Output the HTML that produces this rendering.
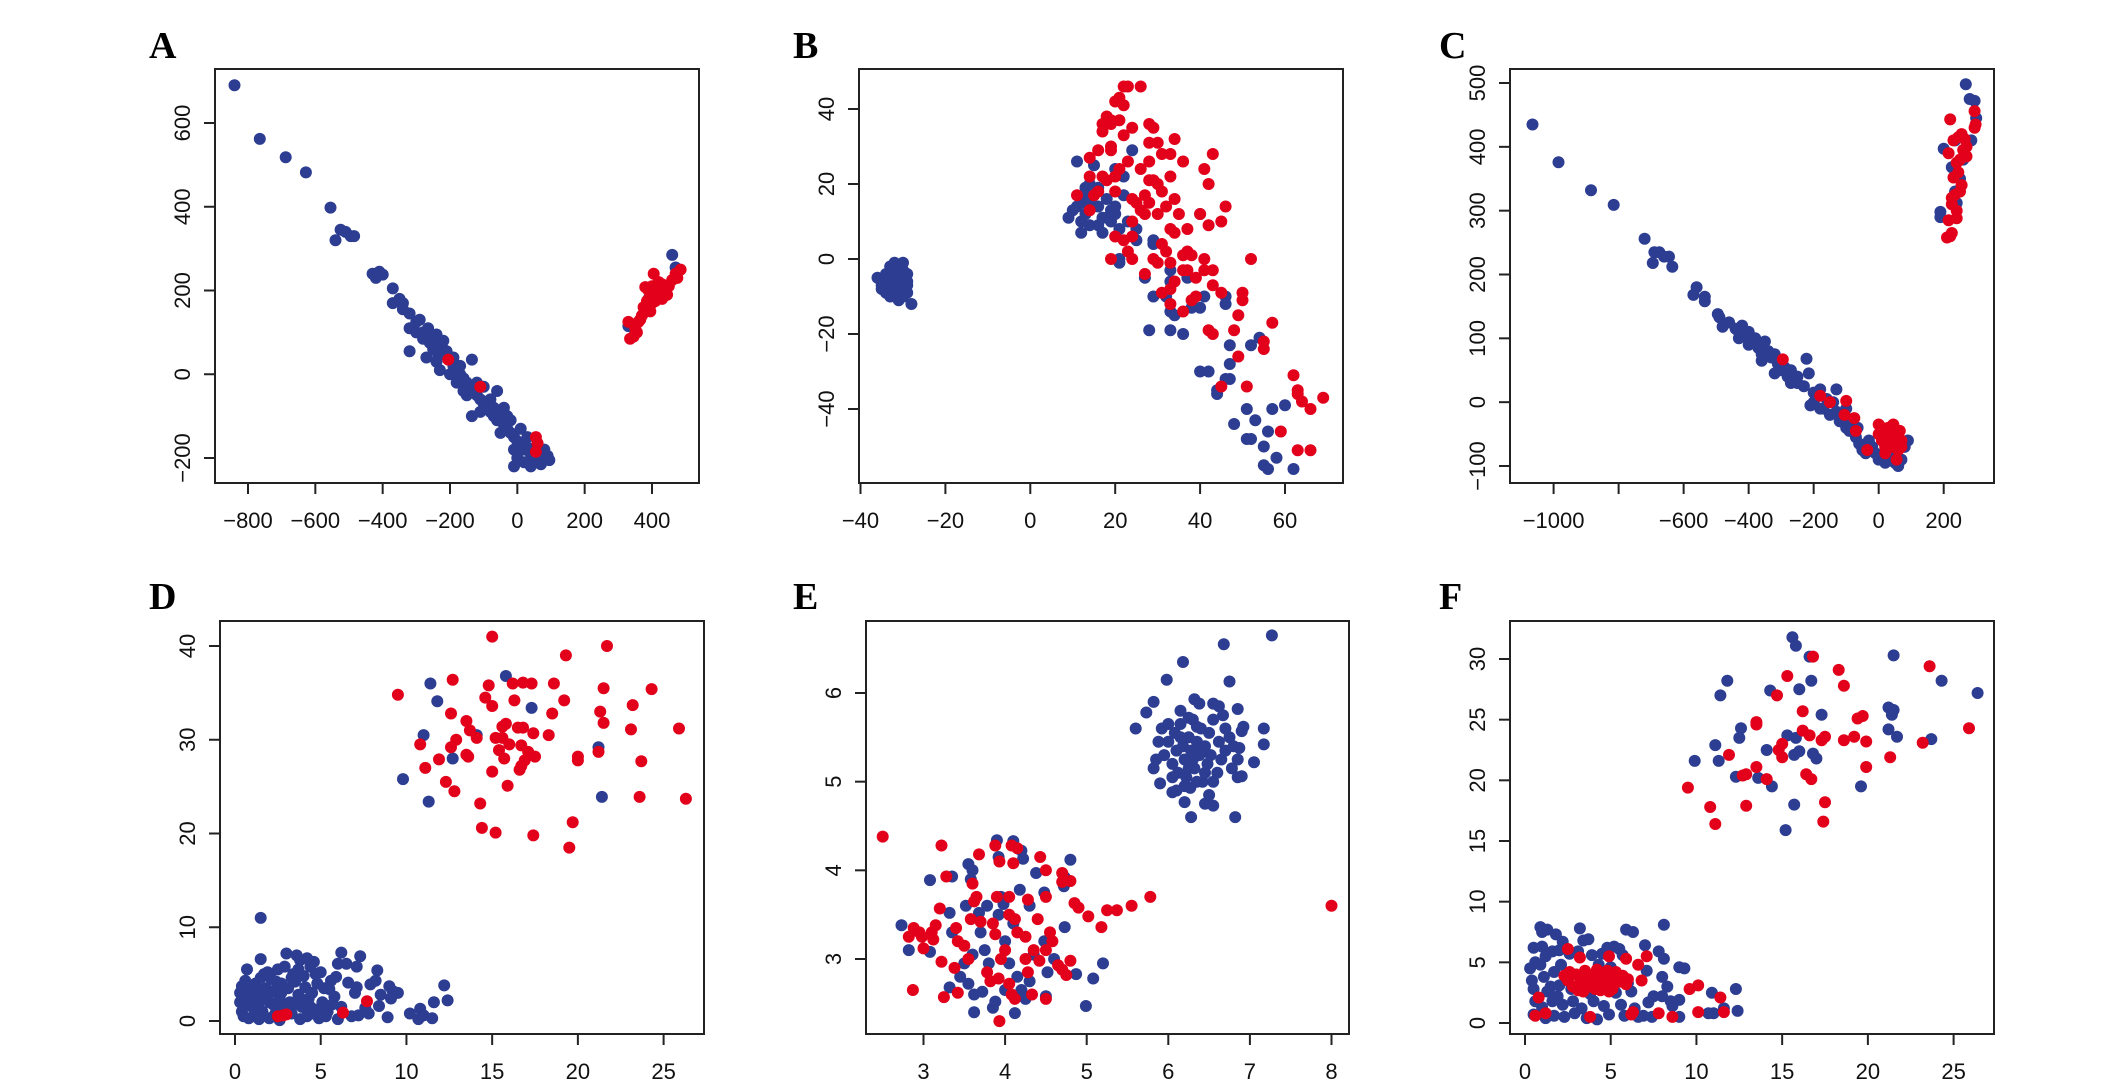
<!DOCTYPE html>
<html><head><meta charset="utf-8"><style>
html,body{margin:0;padding:0;background:#fff;}
svg{display:block;}
</style></head><body>
<svg id="fig" width="2126" height="1090" viewBox="0 0 2126 1090" xmlns="http://www.w3.org/2000/svg"></svg>
<script>
// ---------- data ----------
const aBlue=[[-840,690],[-765,562],[-688,518],[-628,482],[-555,398],[-540,320],[-525,345],[-510,340],[-495,330],[-485,330],[-430,240],[-420,230],[-410,245],[-400,238],[-370,205],[-370,170],[-350,180],[-340,155],[-320,145],[-320,110],[-300,125],[-290,130],[-280,100],[-265,110],[-255,90],[-240,95],[-230,70],[-220,60],[-210,55],[-235,45],[-250,60],[-320,55],[-200,40],[-190,20],[-180,10],[-170,0],[-160,-10],[-150,-20],[-140,-30],[-135,35],[-130,-40],[-120,-50],[-110,-60],[-100,-70],[-135,-100],[-90,-80],[-80,-90],[-70,-100],[-60,-110],[-50,-95],[-40,-120],[-30,-130],[-20,-140],[-10,-150],[0,-160],[10,-170],[20,-180],[30,-175],[40,-190],[50,-200],[60,-185],[70,-195],[80,-180],[90,-195],[95,-205],[-10,-220],[40,-220],[-50,-140],[-60,-40],[-100,-30],[-150,-50],[-200,0],[-240,30],[-260,75],[-280,85],[-220,80],[-190,40],[-170,20],[-120,-20],[-80,-60],[-40,-80],[-20,-110],[10,-130],[30,-150],[60,-165],[0,-200],[20,-210],[70,-215],[-10,-180],[-30,-100],[-70,-80],[-110,-90],[-160,-40],[-180,-20],[-230,10],[-270,40],[-300,100],[-340,170],[460,285],[470,255],[330,115],[390,180]];
const aRed=[[330,125],[335,85],[345,90],[350,110],[360,125],[370,140],[375,160],[380,150],[385,175],[390,200],[395,190],[400,210],[405,240],[410,185],[415,200],[420,205],[425,195],[430,180],[440,200],[450,210],[460,225],[470,240],[485,250],[400,170],[390,160],[420,220],[380,208],[365,130],[355,100],[410,175],[430,215],[445,190],[475,230],[395,150],[-205,35],[-110,-30],[55,-150],[60,-165],[55,-185]];
const bBlue=[[-36,-5],[-35,-7],[-35,-8],[-34,-4],[-34,-6],[-33,-2],[-33,-5],[-33,-8],[-33,-10],[-32,-1],[-32,-3],[-32,-6],[-32,-9],[-31,-2],[-31,-4],[-31,-7],[-31,-10],[-30,-1],[-30,-3],[-30,-5],[-30,-8],[-29,-4],[-29,-6],[-29,-9],[-28,-12],[-29,-7],[-34,-9],[-31,-11],[-30,-10],[11,26],[9,11],[10,13],[12,15],[13,19],[14,20],[15,25],[12,7],[12,10],[13,12],[14,15],[16,9],[17,7],[18,11],[19,10],[20,24],[20,12],[21,8],[22,17],[22,22],[23,10],[24,29],[25,8],[25,5],[21,-1],[21,0],[27,-5],[29,-10],[29,4],[29,5],[33,-3],[33,-6],[32,-10],[33,-14],[34,-15],[37,-5],[38,-13],[40,-13],[41,-10],[40,12],[28,-19],[33,-19],[36,-20],[46,-10],[46,-12],[47,-23],[47,-28],[46,-32],[47,-32],[40,-30],[42,-30],[44,-35],[44,-36],[51,-40],[53,-43],[48,-44],[51,-48],[52,-48],[55,-50],[56,-46],[57,-40],[58,-53],[60,-39],[55,-55],[56,-56],[62,-56],[54,-21],[52,-23],[15,17],[16,14],[18,16],[19,13],[20,14],[17,11],[14,9],[13,17],[16,19],[11,14]];
const bRed=[[22,46],[23,46],[26,46],[20,42],[21,43],[22,41],[17,36],[18,38],[19,37],[19,36],[21,37],[22,33],[24,35],[17,34],[16,29],[19,30],[19,29],[23,26],[14,27],[28,36],[29,35],[28,31],[30,31],[31,28],[28,26],[26,24],[34,32],[33,28],[36,26],[33,22],[41,24],[43,28],[42,20],[28,21],[29,21],[30,20],[31,18],[27,17],[28,15],[25,15],[24,16],[26,13],[27,12],[30,12],[32,14],[34,16],[35,12],[33,8],[34,7],[37,8],[40,12],[42,9],[46,14],[45,10],[14,22],[15,17],[16,18],[17,22],[18,21],[20,22],[21,24],[20,18],[11,17],[14,13],[19,0],[20,6],[22,5],[24,10],[23,2],[24,0],[24,6],[27,-4],[29,0],[30,-1],[31,4],[32,2],[33,-1],[36,1],[37,2],[38,1],[36,-3],[37,-3],[39,-5],[41,0],[41,-3],[43,-3],[43,-7],[39,-10],[38,-11],[34,-6],[33,-8],[31,-9],[33,-12],[36,-14],[45,-9],[50,-9],[50,-11],[49,-15],[42,-19],[43,-20],[48,-19],[49,-26],[55,-22],[55,-24],[57,-17],[52,0],[45,-34],[51,-34],[59,-46],[62,-31],[63,-35],[63,-36],[64,-38],[66,-40],[69,-37],[63,-51],[66,-51]];
const cBlue=[[-1065,435],[-985,376],[-885,332],[-815,309],[-720,256],[-695,218],[-690,235],[-675,235],[-660,228],[-645,228],[-635,212],[-570,168],[-560,180],[-535,165],[-535,158],[-495,138],[-490,133],[-480,118],[-460,125],[-440,115],[-430,100],[-420,120],[-410,105],[-400,110],[-390,95],[-380,100],[-370,85],[-360,65],[-350,95],[-340,80],[-330,70],[-320,75],[-310,60],[-300,50],[-290,55],[-280,40],[-270,50],[-260,35],[-250,30],[-230,25],[-222,68],[-215,45],[-200,15],[-190,10],[-180,20],[-170,-10],[-160,5],[-150,-20],[-130,-15],[-130,20],[-120,-30],[-110,-25],[-100,-40],[-90,-45],[-80,-35],[-70,-55],[-60,-65],[-50,-75],[-40,-80],[-30,-60],[-20,-70],[0,-90],[20,-95],[40,-85],[60,-100],[70,-90],[80,-70],[90,-60],[50,-95],[-10,-80],[-360,75],[-300,65],[-250,40],[-200,0],[-140,0],[-210,-5],[-270,30],[-320,45],[-400,90],[-430,110],[-180,-10],[-100,-10],[-65,-40],[268,498],[280,475],[295,472],[300,445],[285,410],[190,298],[190,290],[200,397],[235,410],[225,368],[240,360],[250,350],[235,330],[240,312],[260,380]];
const cRed=[[220,443],[295,456],[298,435],[295,430],[230,410],[245,415],[255,420],[265,412],[270,400],[260,395],[250,380],[240,375],[230,352],[225,320],[235,325],[250,330],[240,300],[215,285],[240,288],[210,258],[220,260],[225,265],[245,360],[270,385],[255,340],[215,390],[225,310],[-295,67],[-180,10],[-150,0],[-100,2],[-105,-20],[-75,-25],[-70,-45],[-35,-75],[0,-35],[10,-40],[20,-45],[30,-40],[40,-50],[50,-45],[60,-55],[70,-60],[10,-60],[20,-70],[40,-70],[60,-75],[30,-55],[50,-65],[0,-50],[45,-35],[65,-45],[20,-80],[55,-90],[35,-60],[15,-50],[70,-70]];
const dBlue=[[0.3,3],[0.3,2],[0.4,1],[0.5,0.5],[0.6,4.3],[0.7,5.5],[0.8,3.5],[0.9,2.5],[1,1.5],[1.1,0.5],[1.2,4],[1.3,3],[1.4,2],[1.5,6.6],[1.6,1],[1.7,5],[1.8,3.5],[1.9,2.5],[2,0.3],[2.1,4.5],[2.2,1.8],[2.3,3.2],[2.4,1],[2.5,5.5],[2.6,2.4],[2.7,4],[2.8,1.5],[2.9,5.8],[3,7.2],[3.1,3.5],[3.2,2],[3.3,0.8],[3.4,5],[3.5,4.2],[3.6,7],[3.7,2.8],[3.8,6.5],[3.9,1.5],[4,4.8],[4.1,3.6],[4.2,0.5],[4.3,2.4],[4.4,5.8],[4.5,3],[4.6,6.3],[4.7,1.2],[4.8,4],[4.9,0.3],[5,5.2],[5.1,2],[5.2,3.5],[5.4,1],[5.5,3.4],[5.6,4.3],[5.8,2.6],[5.9,4.7],[6,0.2],[6.2,1.5],[0.5,1.8],[0.6,2.7],[1,3.8],[1.2,1.2],[1.5,4.6],[2,2],[2.3,0.6],[2.7,3],[3,1.2],[3.5,1.8],[4,2],[4.5,0.8],[5,1],[0.8,0.3],[1.4,0.2],[2.6,0.1],[3.8,0.2],[4.4,1.5],[5.3,0.5],[5.7,1.8],[0.4,3.7],[1.9,5.2],[2.4,4.2],[3.3,4.6],[3.7,5.5],[4.2,6.7],[4.7,5],[1.1,2.8],[1.5,11],[12.2,3.8],[12.4,2.2],[11.6,2],[10.2,0.8],[10.8,1.3],[11,0.6],[11.5,0.3],[10.7,0.2],[9.2,3.2],[9.5,3],[8.3,5.4],[8.5,2.8],[8.4,1.6],[8.9,0.4],[7.3,6.9],[7.1,5.8],[6.2,7.3],[6,6.1],[6.5,6.1],[6.6,4.1],[7.1,3.6],[7,3],[7.9,3.9],[8.2,4.3],[9,3.7],[9.1,2.4],[7.6,1.4],[7.8,0.8],[7.2,0.6],[6.8,0.5],[11.4,36],[11.8,34.1],[15.8,36.8],[17.3,33.4],[11,30.5],[12.7,28],[14.1,30.5],[9.8,25.8],[11.3,23.4],[21.2,29.2],[21.4,23.9]];
const dRed=[[15,41],[21.7,40],[19.3,39],[9.5,34.8],[12.7,36.4],[14.8,35.8],[16.2,36],[16.8,36.1],[17.3,36],[18.6,36],[14.6,34.5],[15,33.6],[16.3,34.2],[19.2,34.2],[21.5,35.5],[24.3,35.4],[12.6,32.8],[18.5,32.8],[21.3,33],[23.2,33.7],[13.5,32],[13.7,31],[15.6,31.4],[15.8,31.7],[16.5,31.3],[16.8,31.3],[17.4,30.7],[18.3,30.5],[21.5,31.8],[23.1,31.1],[25.9,31.2],[10.8,29.5],[12.9,30],[14.1,30.2],[15.2,30.2],[15.6,30.2],[16,29.5],[16.7,29.4],[17.1,28.7],[12.6,29.2],[15.4,28.9],[13.5,28.4],[13.6,28.2],[15.7,28],[16.9,27.8],[17.5,28.2],[20,28.2],[20,27.8],[21.2,28.7],[11.9,27.9],[11.1,27],[16.6,26.8],[16.7,27.2],[15,26.6],[23.7,27.7],[12.3,25.5],[15.9,25.1],[12.8,24.5],[14.3,23.2],[23.6,23.9],[26.3,23.7],[14.4,20.6],[15.2,20.1],[17.4,19.8],[19.7,21.2],[19.5,18.5],[2.5,0.5],[2.8,0.6],[3.0,0.7],[6.3,0.9],[7.7,2.1]];
const eBlue=[[7.27,6.65],[6.68,6.55],[6.18,6.35],[5.98,6.15],[6.75,6.13],[5.82,5.9],[5.73,5.78],[6.32,5.93],[6.38,5.88],[6.55,5.88],[6.62,5.85],[6.67,5.75],[6.85,5.82],[5.6,5.6],[7.17,5.6],[6.92,5.62],[7.17,5.42],[7.05,5.22],[5.82,5.15],[5.9,4.98],[6.05,4.88],[6.2,4.77],[6.28,4.6],[6.82,4.6],[6.45,4.75],[6.55,4.73],[6.5,4.85],[6.27,4.93],[6.85,5.05],[6.9,5.06],[6.87,5.38],[6.85,5.25],[6.9,5.57],[5.95,5.3],[6.0,5.45],[6.05,5.2],[6.08,5.55],[6.1,5.35],[6.12,5.1],[6.15,5.65],[6.18,5.4],[6.2,5.25],[6.22,5.05],[6.25,5.5],[6.28,5.35],[6.3,5.7],[6.32,5.15],[6.35,5.45],[6.38,5.3],[6.4,5.6],[6.42,5.0],[6.45,5.4],[6.48,5.2],[6.5,5.55],[6.52,5.3],[6.55,5.7],[6.6,5.1],[6.62,5.45],[6.65,5.25],[6.7,5.35],[6.75,5.5],[6.78,5.15],[6.05,5.05],[5.92,5.6],[5.88,5.45],[5.85,5.25],[6.0,5.65],[6.15,5.8],[6.25,5.72],[6.35,5.62],[6.45,5.1],[6.2,4.95],[6.35,5.0],[6.1,4.9],[6.55,5.0],[6.7,5.6],[6.8,5.4],[6.15,5.5],[6.3,5.25],[6.4,5.35],[6.25,5.15],[2.73,3.38],[2.82,3.1],[3.08,3.08],[3.08,3.89],[3.32,3.52],[3.35,3.93],[3.32,2.68],[3.35,3.3],[3.52,3.6],[3.55,4.07],[3.6,4],[3.58,3.9],[3.5,2.95],[3.45,2.8],[3.55,2.72],[3.62,2.6],[3.62,2.4],[3.68,3.52],[3.72,2.63],[3.78,3.6],[3.75,3.1],[3.85,2.45],[3.88,2.52],[3.9,4.34],[3.92,4.15],[3.95,3.7],[3.98,3.62],[4,3.2],[4,2.65],[4.1,4.33],[4.12,2.39],[4.18,3.78],[4.2,4.22],[4.22,4.13],[4.15,2.8],[4.2,2.65],[4.25,2.55],[4.3,3.6],[4.3,2.75],[4.38,3.97],[4.48,3.75],[4.5,2.58],[4.48,3.2],[4.52,2.85],[4.73,3.92],[4.72,3.82],[4.8,4.12],[4.73,3.36],[4.87,2.83],[4.99,2.47],[5.08,2.78],[5.2,2.95],[3.92,3.5],[4.1,3.4],[3.8,2.95],[4.05,2.95],[3.6,3.05],[4.35,3.05],[4.6,3.0],[3.7,3.3]];
const eRed=[[2.5,4.38],[3.22,4.28],[3.28,3.93],[3.68,4.18],[3.88,4.28],[3.93,4.1],[4.08,4.28],[4.15,4.25],[4.1,4.08],[4.43,4.15],[4.5,4.0],[4.7,3.97],[4.7,3.87],[4.8,3.88],[3.6,3.85],[3.65,3.7],[3.62,3.65],[3.9,3.7],[4.05,3.7],[4.28,3.67],[4.5,3.7],[4.85,3.63],[4.9,3.58],[5.02,3.48],[5.25,3.55],[5.37,3.55],[5.55,3.6],[5.78,3.7],[8,3.6],[5.18,3.36],[3.2,3.57],[3.15,3.38],[2.88,3.35],[2.95,3.3],[2.82,3.25],[2.98,3.25],[3.1,3.3],[3.12,3.22],[3.4,3.35],[3.42,3.2],[3.5,3.15],[3.58,3.45],[3.7,3.42],[3.85,3.4],[3.88,3.28],[4.05,3.5],[4.12,3.45],[4.15,3.3],[4.25,3.25],[4.4,3.45],[4.55,3.3],[4.58,3.2],[4.35,3.1],[4.25,3.0],[4.28,2.85],[4.42,2.98],[4.5,3.1],[4.65,2.93],[4.7,2.88],[4.75,2.82],[4.8,2.98],[3.0,3.12],[3.22,2.97],[3.38,2.9],[3.55,3.0],[3.78,2.85],[3.82,2.75],[3.92,2.78],[3.95,3.0],[4.05,2.72],[4.0,3.1],[4.08,2.6],[4.12,2.55],[4.33,2.6],[4.5,2.55],[2.87,2.65],[3.25,2.57],[3.42,2.62],[3.93,2.3]];
const fBlue=[[0.5,6.2],[0.6,5],[0.3,4.5],[0.4,3.5],[0.5,2.8],[0.6,1.8],[0.5,0.7],[0.9,7.9],[1,7.5],[1.3,7.7],[1.8,7.3],[1,6.3],[1.2,5.5],[0.9,4.8],[1.1,3.8],[1.3,2.6],[1,1.3],[1.2,0.4],[1.6,5.9],[1.7,4.2],[1.5,3],[1.6,1.8],[1.7,0.6],[2,6],[2.2,6.7],[2.1,4.8],[2,3.1],[2.2,1.5],[2.3,0.5],[2.6,5.7],[2.8,1.8],[2.9,0.8],[3.2,7.8],[3.4,6.8],[3.7,6.9],[3.1,5.9],[3.3,1.2],[3.6,0.4],[3.9,5.6],[4,1.8],[4.2,0.3],[4.5,5.7],[4.6,1.4],[4.8,6.2],[4.9,0.7],[5.2,6.3],[5.5,6.1],[5.7,5.6],[5.3,2.5],[5.6,1.5],[5.8,0.6],[5.9,7.7],[6.3,7.5],[6.2,2.6],[6.4,1.2],[6.6,0.5],[7,6.4],[7.1,4.3],[7.2,1.7],[7.5,2.2],[7.8,5.9],[8.1,8.1],[8.1,5.3],[8,3.8],[8.3,3],[8,2.2],[7.4,0.5],[8.5,1.8],[8.6,1.4],[9,4.6],[9.3,4.5],[9,1.9],[9,0.5],[10.9,2.5],[11,0.8],[10.7,0.8],[11.6,1.2],[12.3,2.8],[12.4,1],[6.9,0.6],[6,3.3],[5,4.6],[4.3,4.8],[2.4,4],[2.7,2.8],[3.8,2.4],[4.6,2.8],[1.9,2.2],[15.6,31.8],[15.8,31.1],[16.6,30.2],[21.5,30.3],[11.8,28.2],[11.4,27],[16.7,28.2],[16,27.5],[14.3,27.4],[24.3,28.2],[26.4,27.2],[21.2,26],[21.5,25.8],[21.4,25.4],[17.3,25.4],[12.6,24.3],[12.5,23.5],[21.2,24.2],[21.7,23.6],[23.7,23.4],[15.3,23.7],[15.8,23.5],[16,22.4],[15.7,22.1],[14.1,22.5],[16.8,22.2],[17,21.8],[11.1,22.9],[11.3,21.6],[9.9,21.6],[12.3,20.3],[13.6,20.2],[14.4,19.5],[19.6,19.5],[15.7,18],[15.2,15.9]];
const fRed=[[16.8,30.2],[23.6,29.4],[18.3,29.1],[15.3,28.6],[18.6,27.8],[14.7,27],[16.2,25.7],[13.5,24.8],[13.5,24.6],[19.4,25.1],[19.7,25.3],[25.9,24.3],[16.2,24.1],[16.6,23.7],[17.3,23.3],[17.5,23.6],[18.6,23.3],[19.2,23.6],[19.9,23.2],[23.2,23.1],[15,23],[14.8,22.5],[15,21.9],[11.9,22.1],[21.3,21.9],[13.5,21.1],[19.9,21.1],[12.7,20.4],[12.9,20.5],[14.1,20.1],[16.4,20.5],[16.7,20.1],[9.5,19.4],[10.8,17.8],[12.9,17.9],[17.5,18.2],[11.1,16.4],[17.4,16.6],[2.5,3.5],[2.8,3],[3,4],[3.2,3.3],[3.4,2.6],[3.5,4.3],[3.6,3.7],[3.8,3],[4,4],[4.1,2.8],[4.3,3.5],[4.5,3.9],[4.7,3.1],[4.8,4.3],[5,3.6],[5.1,2.8],[5.3,4.2],[5.5,3.4],[5.7,3.9],[5.9,3.2],[6,3.6],[2.3,3.9],[2.6,4.2],[3.1,2.7],[3.9,3.5],[4.4,2.7],[4.9,2.6],[5.4,3.8],[3.3,3.8],[4.2,4.4],[2.5,6.1],[3.2,5.4],[4.9,5.5],[5.9,5.3],[7.1,5.5],[6.6,4.8],[6.8,3.5],[9.6,2.8],[10.1,3.1],[11.4,2.1],[0.8,2.1],[0.6,0.6],[1.2,0.8],[3.8,0.5],[6.3,0.9],[7.8,0.8],[8.6,0.5],[10.1,0.9],[11.6,0.9],[6.2,0.7]];
const aXTicks=[-800,-600,-400,-200,0,200,400], aYTicks=[-200,0,200,400,600];
const bXTicks=[-40,-20,0,20,40,60], bYTicks=[-40,-20,0,20,40];
const cXTicks=[-1000,-800,-600,-400,-200,0,200], cYTicks=[-100,0,100,200,300,400,500];
const dXTicks=[0,5,10,15,20,25], dYTicks=[0,10,20,30,40];
const eXTicks=[3,4,5,6,7,8], eYTicks=[3,4,5,6];
const fXTicks=[0,5,10,15,20,25], fYTicks=[0,5,10,15,20,25,30];

// ---------- drawing ----------
const NS='http://www.w3.org/2000/svg';
const svg=document.getElementById('fig');
const BLUE='#2c3d92', RED='#e2001b';
function mk(tag,attrs,parent){const e=document.createElementNS(NS,tag);for(const k in attrs)e.setAttribute(k,attrs[k]);parent.appendChild(e);return e;}
function lin(d0,d1,p0,p1){return v=>p0+(v-d0)*(p1-p0)/(d1-d0);}

function panel(cfg){
  const g=mk('g',{},svg);
  
  
  const sx=lin(cfg.xd[0],cfg.xd[1],cfg.xp[0],cfg.xp[1]);
  const sy=lin(cfg.yd[0],cfg.yd[1],cfg.yp[0],cfg.yp[1]);
  const [L,T,R,B]=cfg.box;
  const lab=mk('text',{x:cfg.lx,y:cfg.ly,'font-family':'Liberation Serif, serif','font-weight':'bold','font-size':38,fill:'#000'},g);
  lab.textContent=cfg.id;
  
  
  const pts=mk('g',{},g);
  
  
  const series=[[cfg.blue,BLUE,'blue'],[cfg.red,RED,'red']];
  series.forEach(([arr,col,nm])=>{
    arr.forEach(p=>{
      const x=sx(p[0]),y=sy(p[1]);
      if(x<L-2||x>R+2||y<T-2||y>B+2)return;
      const c=mk('circle',{cx:x.toFixed(1),cy:y.toFixed(1),r:6,fill:col},pts);
      
      
    });
  });
  const box=mk('rect',{x:L,y:T,width:R-L,height:B-T,fill:'none',stroke:'#222','stroke-width':2},g);
  
  
  const xa=mk('g',{},g);
  
  
  cfg.xt.forEach(v=>{
    const x=sx(v);
    mk('line',{x1:x,y1:B,x2:x,y2:B+11,stroke:'#222','stroke-width':2},xa);
    if(cfg.hideX&&cfg.hideX.includes(v))return;
    const t=mk('text',{x:x,y:B+45,'text-anchor':'middle','font-family':'Liberation Sans, sans-serif','font-size':22,fill:'#111'},xa);
    t.textContent=String(v).replace('-','\u2212');
    
    
  });
  mk('line',{x1:sx(cfg.xt[0]),y1:B,x2:sx(cfg.xt[cfg.xt.length-1]),y2:B,stroke:'#222','stroke-width':2},xa);
  const ya=mk('g',{},g);
  
  
  cfg.yt.forEach(v=>{
    const y=sy(v);
    mk('line',{x1:L,y1:y,x2:L-11,y2:y,stroke:'#222','stroke-width':2},ya);
    const tx=L-25;
    const t=mk('text',{x:tx,y:y,'text-anchor':'middle','font-family':'Liberation Sans, sans-serif','font-size':22,fill:'#111',transform:`rotate(-90 ${tx} ${y})`},ya);
    t.textContent=String(v).replace('-','\u2212');
    
    
  });
}

panel({id:'A',lx:149,ly:58,box:[215,69,699,483],xd:[-800,400],xp:[248,652],yd:[600,-200],yp:[123,458],xt:aXTicks,yt:aYTicks,blue:aBlue,red:aRed});
panel({id:'B',lx:793,ly:58,box:[859,69,1343,483],xd:[-40,60],xp:[860.5,1285],yd:[40,-40],yp:[109,409],xt:bXTicks,yt:bYTicks,blue:bBlue,red:bRed});
panel({id:'C',lx:1439,ly:58,box:[1510,69,1994,483],xd:[-1000,200],xp:[1553.6,1943.7],yd:[500,-100],yp:[83,466],xt:cXTicks,yt:cYTicks,hideX:[-800],blue:cBlue,red:cRed});
panel({id:'D',lx:149,ly:609,box:[220,621,704,1034],xd:[0,25],xp:[235,663.6],yd:[0,40],yp:[1021,646],xt:dXTicks,yt:dYTicks,blue:dBlue,red:dRed});
panel({id:'E',lx:793,ly:609,box:[866,621,1349,1034],xd:[3,8],xp:[923.5,1331.5],yd:[6,3],yp:[693,959],xt:eXTicks,yt:eYTicks,blue:eBlue,red:eRed});
panel({id:'F',lx:1439,ly:609,box:[1510,621,1994,1034],xd:[0,25],xp:[1525,1953.6],yd:[0,30],yp:[1023,659],xt:fXTicks,yt:fYTicks,blue:fBlue,red:fRed});
</script>
</body></html>
